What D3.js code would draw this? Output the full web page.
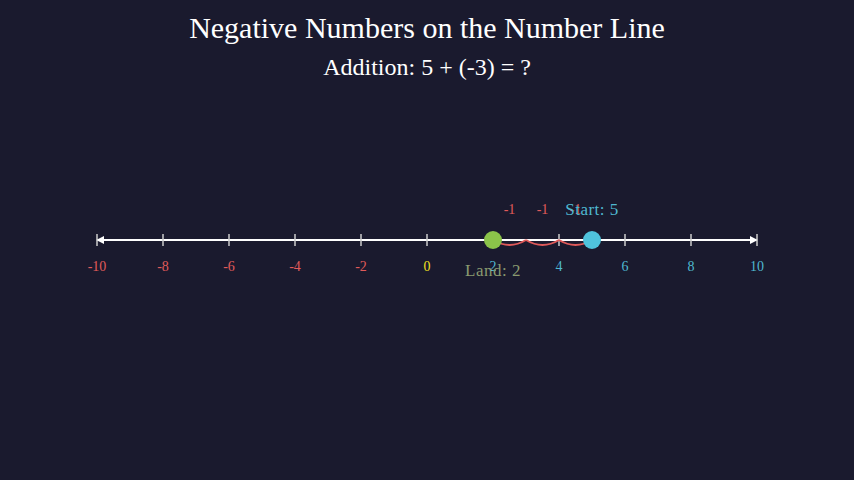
<!DOCTYPE html><html><head><meta charset="utf-8"><script src="https://cdn.jsdelivr.net/npm/d3@7"></script>
<style>body{margin:0;background:#1a1a2e}svg{display:block;font-family:"Liberation Serif",serif}</style></head><body><svg width="854" height="480"></svg><script>
const ticks=[-10,-8,-6,-4,-2,0,2,4,6,8,10];
const start=5, addend=-3, land=2;
const steps=[5,4,3,2];
const stepLabels=["-1","-1","-1"];
const svg=d3.select("svg");
svg.append("rect").attr("width",854).attr("height",480).attr("fill","#1a1a2e");
const x=d3.scaleLinear().domain([-10,10]).range([97,757]);
const y=240;
svg.append("text").attr("x",427).attr("y",38).attr("text-anchor","middle").attr("fill","#fff").attr("font-size",30).text("Negative Numbers on the Number Line");
svg.append("text").attr("x",427).attr("y",75).attr("text-anchor","middle").attr("fill","#fff").attr("font-size",24).text("Addition: 5 + (-3) = ?");
svg.append("defs").append("marker").attr("id","ah").attr("viewBox","0 0 10 10").attr("refX",9).attr("refY",5).attr("markerWidth",4).attr("markerHeight",4).attr("orient","auto-start-reverse").append("path").attr("d","M0,0L10,5L0,10Z").attr("fill","#fff");
svg.append("line").attr("x1",x(-10)).attr("x2",x(10)).attr("y1",y).attr("y2",y).attr("stroke","#fff").attr("stroke-width",2).attr("marker-start","url(#ah)").attr("marker-end","url(#ah)");
const tg=svg.selectAll("g.t").data(ticks).join("g").attr("transform",d=>`translate(${x(d)},${y})`);
tg.append("line").attr("y1",-6).attr("y2",6).attr("stroke","#ccc").attr("stroke-width",1.5);
tg.append("text").attr("y",31).attr("text-anchor","middle").attr("font-size",14).attr("fill",d=>d<0?"#e05a5a":d===0?"#f0e020":"#4fb8d0").text(d=>d);
for(let i=0;i<steps.length-1;i++){const a=x(steps[i]),b=x(steps[i+1]);
svg.append("path").attr("d",`M${a},${y}Q${(a+b)/2},${y+10} ${b},${y}`).attr("fill","none").attr("stroke","#e05a5a").attr("stroke-width",2);
svg.append("text").attr("x",(a+b)/2).attr("y",214).attr("text-anchor","middle").attr("font-size",14).attr("fill","#e05a5a").text(stepLabels[i]);}
svg.append("circle").attr("cx",x(land)).attr("cy",y).attr("r",9).attr("fill","#8bc34a");
svg.append("circle").attr("cx",x(start)).attr("cy",y).attr("r",9).attr("fill","#4fc3dc");
svg.append("text").attr("x",x(start)).attr("y",215).attr("text-anchor","middle").attr("font-size",17).attr("letter-spacing",0.5).attr("fill","#4fb8d0").text("Start: 5");
svg.append("text").attr("x",x(land)).attr("y",276).attr("text-anchor","middle").attr("font-size",17).attr("letter-spacing",0.5).attr("fill","#8a9a70").text("Land: 2");
</script></body></html>
